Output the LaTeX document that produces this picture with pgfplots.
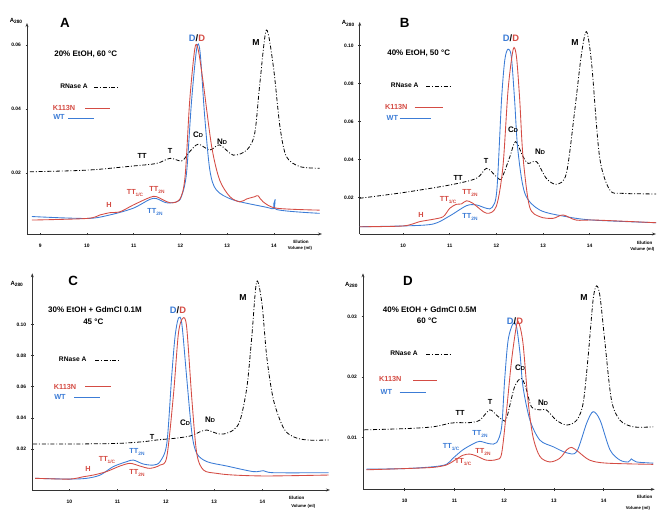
\documentclass[border=0pt]{standalone}
\usepackage{pgfplots}
\pgfplotsset{compat=1.18}
\usepackage{fontspec}
\setmainfont{Liberation Sans}
\usetikzlibrary{arrows.meta}
\definecolor{kred}{RGB}{212,76,68}
\definecolor{wblue}{RGB}{60,124,214}
\newcommand\fs[1]{\fontsize{#1}{#1}\selectfont\bfseries}
\newcommand\sub[1]{\raisebox{-0.45ex}{\fontsize{3.6}{4}\selectfont\bfseries #1}}
\newcommand\sm[1]{{\fontsize{4.3}{5}\selectfont\bfseries #1}}

\pgfplotsset{
  panel/.style={scale only axis, anchor=south west, axis lines=left,
    axis line style={black!80, line width=0.5pt, -{Stealth[length=3pt,width=2.2pt]}},
    tick style={black!80, line width=0.4pt}, major tick length=2pt, tick align=center,
    ticklabel style={font=\fs{3.7}},
    scaled y ticks=false,
    /pgf/number format/assume math mode=true,
    y tick label style={/pgf/number format/fixed, /pgf/number format/fixed zerofill, /pgf/number format/precision=2},
    x tick label style={yshift=-3pt},
    every axis plot/.append style={smooth, tension=0.5, no markers},
  },
  rn/.style={black, line width=0.6pt, dash pattern=on 3pt off 1.4pt on 0.7pt off 1.4pt},
  kn/.style={kred, line width=0.65pt},
  wt/.style={wblue, line width=0.65pt},
}

\begin{document}
\begin{tikzpicture}
\path[use as bounding box] (0,0) rectangle (500.25pt,-395.25pt);

% ---------- A ----------
\begin{axis}[panel, at={(20.25pt,-175.5pt)}, width=221.25pt, height=158.25pt,
  xmin=8.717, xmax=15.03, ymin=0.00094, ymax=0.0669,
  xtick={9,...,14}, ytick={0.02,0.04,0.06}]
\addplot[rn] coordinates {(8.78,0.0204) (10.00,0.0209) (10.99,0.0222) (11.49,0.0230) (11.78,0.0246) (12.03,0.0238) (12.20,0.0267) (12.38,0.0290) (12.63,0.0272) (12.84,0.0288) (13.13,0.0256) (13.42,0.0272) (13.59,0.0324) (13.70,0.0480) (13.84,0.0647) (13.99,0.0532) (14.13,0.0345) (14.27,0.0251) (14.56,0.0220) (14.98,0.0215)};
\addplot[wt] coordinates {(8.82,0.0064) (10.00,0.0058) (10.49,0.0069) (10.99,0.0090) (11.35,0.0118) (11.49,0.0120) (11.70,0.0107) (11.92,0.0110) (12.02,0.0126) (12.13,0.0199) (12.24,0.0428) (12.35,0.0590) (12.42,0.0579) (12.52,0.0376) (12.63,0.0209) (12.77,0.0147) (13.13,0.0116) (13.84,0.0093) (14.00,0.0089) (14.03,0.0118) (14.06,0.0086) (14.98,0.0074)};
\addplot[kn] coordinates {(8.82,0.0053) (10.00,0.0058) (10.28,0.0069) (10.49,0.0076) (10.71,0.0079) (10.99,0.0100) (11.35,0.0124) (11.49,0.0126) (11.78,0.0107) (11.99,0.0119) (12.10,0.0189) (12.20,0.0428) (12.31,0.0590) (12.38,0.0586) (12.49,0.0480) (12.67,0.0282) (12.84,0.0178) (13.06,0.0126) (13.27,0.0110) (13.42,0.0119) (13.59,0.0126) (13.66,0.0129) (13.77,0.0110) (14.06,0.0090) (14.98,0.0084)};
\end{axis}

% ---------- B ----------
\begin{axis}[panel, at={(269.8pt,-175.5pt)}, width=222.2pt, height=159pt,
  xmin=9.072, xmax=15.42, ymin=0.00066, ymax=0.1125,
  xtick={10,...,14}, ytick={0.02,0.04,0.06,0.08,0.10}]
\addplot[rn] coordinates {(9.07,0.0195) (10.00,0.0225) (11.00,0.0265) (11.57,0.0300) (11.79,0.0353) (12.00,0.0309) (12.11,0.0300) (12.29,0.0415) (12.41,0.0494) (12.57,0.0415) (12.68,0.0379) (12.86,0.0388) (13.07,0.0300) (13.29,0.0269) (13.50,0.0327) (13.68,0.0661) (13.82,0.0951) (13.93,0.1074) (14.04,0.0907) (14.21,0.0415) (14.43,0.0239) (14.71,0.0221) (15.43,0.0218)};
\addplot[wt] coordinates {(9.07,0.0045) (10.00,0.0049) (10.64,0.0059) (11.00,0.0102) (11.36,0.0156) (11.57,0.0160) (11.79,0.0142) (11.91,0.0147) (12.01,0.0239) (12.11,0.0714) (12.18,0.0925) (12.25,0.0982) (12.32,0.0942) (12.39,0.0714) (12.46,0.0450) (12.61,0.0221) (12.93,0.0133) (13.50,0.0098) (14.07,0.0080) (15.43,0.0066)};
\addplot[kn] coordinates {(9.07,0.0045) (10.00,0.0049) (10.36,0.0072) (10.64,0.0084) (10.86,0.0098) (11.00,0.0142) (11.14,0.0163) (11.25,0.0165) (11.36,0.0182) (11.50,0.0168) (11.79,0.0116) (12.00,0.0154) (12.14,0.0362) (12.25,0.0766) (12.36,0.0981) (12.43,0.0942) (12.50,0.0714) (12.57,0.0415) (12.71,0.0151) (12.93,0.0098) (13.21,0.0089) (13.43,0.0107) (13.71,0.0080) (14.14,0.0080) (15.43,0.0066)};
\end{axis}

% ---------- C ----------
\begin{axis}[panel, at={(24.2pt,-367.5pt)}, width=223.3pt, height=162.5pt,
  xmin=9.233, xmax=15.40, ymin=-0.00631, ymax=0.1328,
  xtick={10,...,14}, ytick={0.02,0.04,0.06,0.08,0.10}]
\addplot[rn] coordinates {(9.25,0.0232) (10.00,0.0232) (10.98,0.0236) (11.53,0.0247) (11.81,0.0258) (12.16,0.0268) (12.43,0.0279) (12.57,0.0290) (12.71,0.0311) (12.85,0.0322) (13.05,0.0301) (13.19,0.0296) (13.40,0.0322) (13.54,0.0386) (13.68,0.0600) (13.78,0.0921) (13.88,0.1274) (13.99,0.1135) (14.09,0.0792) (14.23,0.0514) (14.44,0.0333) (14.64,0.0279) (14.92,0.0258) (15.37,0.0258)};
\addplot[wt] coordinates {(9.29,0.0012) (10.00,0.0007) (10.36,0.0012) (10.64,0.0033) (10.91,0.0087) (11.19,0.0119) (11.33,0.0129) (11.53,0.0104) (11.74,0.0097) (11.88,0.0119) (12.02,0.0236) (12.12,0.0664) (12.19,0.0921) (12.26,0.1039) (12.33,0.1006) (12.43,0.0664) (12.54,0.0301) (12.64,0.0172) (12.85,0.0119) (13.26,0.0091) (13.81,0.0055) (14.02,0.0061) (14.23,0.0048) (15.37,0.0048)};
\addplot[kn] coordinates {(9.29,0.0012) (10.00,0.0007) (10.29,0.0022) (10.50,0.0033) (10.77,0.0055) (11.05,0.0091) (11.26,0.0108) (11.46,0.0091) (11.67,0.0076) (11.88,0.0097) (12.02,0.0151) (12.16,0.0557) (12.26,0.0942) (12.35,0.1039) (12.43,0.0985) (12.54,0.0514) (12.64,0.0172) (12.78,0.0065) (13.05,0.0044) (13.40,0.0033) (14.09,0.0027) (15.37,0.0033)};
\end{axis}

% ---------- D ----------
\begin{axis}[panel, at={(272.25pt,-367pt)}, width=218.8pt, height=162pt,
  xmin=9.161, xmax=15.03, ymin=0.00147, ymax=0.03717,
  xtick={10,...,14}, ytick={0.01,0.02,0.03}]
\addplot[rn] coordinates {(9.19,0.0113) (10.00,0.0115) (10.57,0.0118) (10.91,0.0124) (11.04,0.0125) (11.31,0.0125) (11.51,0.0129) (11.71,0.0146) (11.85,0.0137) (11.98,0.0129) (12.05,0.0132) (12.21,0.0184) (12.35,0.0198) (12.45,0.0179) (12.55,0.0151) (12.72,0.0146) (12.85,0.0146) (13.05,0.0129) (13.26,0.0121) (13.46,0.0129) (13.59,0.0157) (13.69,0.0234) (13.79,0.0328) (13.86,0.0351) (13.93,0.0333) (14.03,0.0256) (14.16,0.0162) (14.33,0.0129) (14.60,0.0118) (15.00,0.0118)};
\addplot[wt] coordinates {(9.23,0.0048) (10.00,0.0049) (10.57,0.0052) (10.84,0.0056) (10.97,0.0066) (11.17,0.0080) (11.38,0.0090) (11.51,0.0094) (11.71,0.0090) (11.85,0.0092) (11.95,0.0118) (12.01,0.0195) (12.08,0.0261) (12.18,0.0289) (12.25,0.0283) (12.32,0.0239) (12.38,0.0184) (12.52,0.0129) (12.72,0.0096) (12.99,0.0085) (13.26,0.0075) (13.46,0.0077) (13.66,0.0124) (13.79,0.0143) (13.93,0.0129) (14.13,0.0080) (14.33,0.0063) (14.50,0.0060) (14.56,0.0065) (14.66,0.0060) (15.00,0.0058)};
\addplot[kn] coordinates {(9.23,0.0047) (10.00,0.0049) (10.57,0.0051) (10.84,0.0055) (11.01,0.0063) (11.17,0.0071) (11.31,0.0073) (11.44,0.0070) (11.64,0.0063) (11.85,0.0064) (11.95,0.0074) (12.05,0.0146) (12.15,0.0228) (12.25,0.0286) (12.30,0.0289) (12.38,0.0256) (12.48,0.0162) (12.58,0.0102) (12.72,0.0069) (12.92,0.0060) (13.12,0.0066) (13.26,0.0080) (13.36,0.0084) (13.49,0.0077) (13.72,0.0063) (14.06,0.0058) (15.00,0.0056)};
\end{axis}

% ---------- labels (pixel coordinates) ----------
\begin{scope}[x=0.75pt, y=-0.75pt, every node/.style={inner sep=0pt}]
% panel letters
\node[font=\fs{10}] at (65,22.7) {A};
\node[font=\fs{10}] at (404.7,23.3) {B};
\node[font=\fs{10}] at (73.3,280.7) {C};
\node[font=\fs{10}] at (408,280.7) {D};
% A280
\foreach \p in {(16,21),(348,23.3),(16.7,284),(351.3,285)}
  \node[font=\fs{4.5}] at \p {A\sub{280}};
% Elution volume
\foreach \a/\b in {301/242, 644.7/242.7, 296.7/497.7, 644.7/497.3}
  \node[font=\fs{3.4}] at (\a,\b) {Elution};
\foreach \a/\b in {300/248.5, 642.3/249.3, 303.3/506, 638/508.3}
  \node[font=\fs{3.2}] at (\a,\b) {Volume (ml)};
% conditions
\node[font=\fs{6}] at (85.7,54) {20\% EtOH, 60 °C};
\node[font=\fs{6}] at (418.7,53.3) {40\% EtOH, 50 °C};
\node[font=\fs{6}] at (95,310) {30\% EtOH + GdmCl 0.1M};
\node[font=\fs{6}] at (93.3,321.7) {45 °C};
\node[font=\fs{6}] at (429.7,309.3) {40\% EtOH + GdmCl 0.5M};
\node[font=\fs{6}] at (427,321) {60 °C};
% legends
\foreach \tx/\ty/\la/\lb/\ly in {74/86/94/119/87, 404.7/85.7/426.3/451.3/86.7, 72.7/359/95/120/360, 404/353.3/426.3/451.3/354}{
  \node[font=\fs{5}] at (\tx,\ty) {RNase A};
  \draw[black, line width=0.6pt, dash pattern=on 3pt off 1.4pt on 0.7pt off 1.4pt] (\la,\ly) -- (\lb,\ly);
}
\foreach \tx/\ty/\la/\lb/\ly in {64/108/85/110/108.3, 396.3/107.3/414.7/443/107.3, 65/386.7/85/110.7/386.7, 390.3/379.3/413/437/380.7}{
  \node[font=\fs{5.5}, text=kred] at (\tx,\ty) {K113N};
  \draw[kred, line width=0.65pt] (\la,\ly) -- (\lb,\ly);
}
\foreach \tx/\ty/\la/\lb/\ly in {59/117/68/94/118.3, 392.3/118.3/399.7/431.3/118.3, 60/396.7/74/100/397.7, 386.3/391.7/399.7/426.3/392.3}{
  \node[font=\fs{5.5}, text=wblue] at (\tx,\ty) {WT};
  \draw[wblue, line width=0.65pt] (\la,\ly) -- (\lb,\ly);
}
% peak labels
\foreach \p in {(197,38),(511,38),(178,310),(515,321)}
  \node[font=\fs{7}] at \p {\textcolor{wblue}{D}/\textcolor{kred}{D}};
\foreach \p in {(256,43),(575,43),(243,298),(584,298)}
  \node[font=\fs{6.5}] at \p {M};
\foreach \p in {(198,135),(513,130),(185,423),(520,368)}
  \node[font=\fs{6}] at \p {C\sm{D}};
\foreach \p in {(222,142),(540,152),(210,420),(543,403)}
  \node[font=\fs{6}] at \p {N\sm{D}};
\foreach \p in {(142,156),(458,178),(460,413)}
  \node[font=\fs{5.5}] at \p {TT};
\foreach \p in {(170,151),(486,161),(152,437),(490,402)}
  \node[font=\fs{5.5}] at \p {T};
\foreach \p in {(109,205),(421,215),(88,469)}
  \node[font=\fs{5.5}, text=kred] at \p {H};
\foreach \p in {(135,193),(448,200),(107,460),(463,462)}
  \node[font=\fs{5.5}, text=kred] at \p {TT\sub{1/C}};
\foreach \p in {(157,190),(470,193),(137,473),(483,452)}
  \node[font=\fs{5.5}, text=kred] at \p {TT\sub{2N}};
\foreach \p in {(155,212),(470,217),(137,452),(480,434)}
  \node[font=\fs{5.5}, text=wblue] at \p {TT\sub{2N}};
\node[font=\fs{5.5}, text=wblue] at (451,447) {TT\sub{1/C}};
\end{scope}
\end{tikzpicture}
\end{document}
